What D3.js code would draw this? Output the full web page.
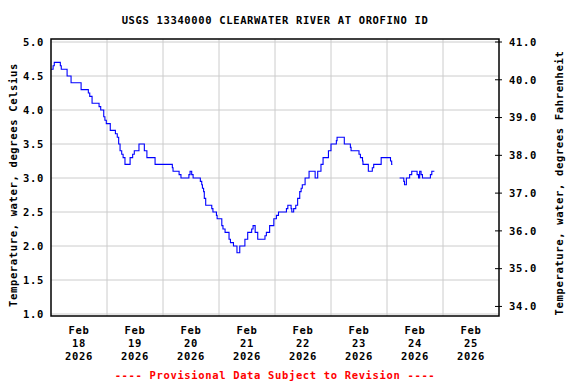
<!DOCTYPE html>
<meta charset="utf-8">
<head>
    <title>USGS 13340000 CLEARWATER RIVER AT OROFINO ID</title>
    <style>
        body { margin: 0; background: #fff; }
        text {
            font-family: "DejaVu Sans Mono", monospace;
            font-weight: bold;
            font-size: 10.5px;
            letter-spacing: 0.65px;
            fill: #000;
        }
    </style>
</head>
<body>
<script src="https://d3js.org/d3.v7.min.js"></script>
<script>
    // readings as change points: hours after Feb 18 00:00 and water temp (deg C); null = gap
    var hours = [0, 0.9, 1.4, 4.0, 4.4, 6.9, 8.6, 12.9, 16.0, 16.6, 17.6, 20.6, 21.3, 22.6, 23.1, 23.7,
        25.4, 27.6, 28.4, 29.0, 29.6, 30.3, 30.9, 31.7, 33.9, 35.0, 35.7, 37.7, 40.0, 41.1, 44.6,
        52.0, 52.3, 54.9, 55.7, 59.1, 59.6, 60.3, 60.9, 64.0, 64.6, 64.9, 65.4, 65.7, 66.3, 68.9,
        69.4, 70.9, 71.2, 73.2, 73.7, 74.6, 76.3, 76.9, 78.2, 79.7, 80.9, 83.1, 84.3, 86.0, 86.6,
        87.5, 88.6, 91.7, 92.3, 93.7, 95.5, 96.6, 97.5, 100.9, 101.5, 102.9, 103.2, 104.0, 104.9,
        105.7, 106.6, 107.2, 107.7, 108.9, 110.6, 113.2, 114.3, 115.7, 116.6, 118.9, 120.0, 122.3,
        122.6, 125.7, 128.3, 128.6, 132.0, 132.6, 133.5, 133.7, 136.0, 137.7, 138.3, 141.5, 145.5,
        146.0, 146.3, 147.0,
        149.4, 151.2, 151.5, 152.3, 153.7, 154.6, 156.9, 157.5, 158.0, 158.6, 159.2, 162.6, 163.2, 164.3];
    var tempC = [4.6, 4.65, 4.7, 4.65, 4.6, 4.5, 4.4, 4.3, 4.25, 4.2, 4.1, 4.05, 4.0, 3.9, 3.85, 3.8,
        3.7, 3.65, 3.6, 3.5, 3.4, 3.35, 3.3, 3.2, 3.3, 3.35, 3.4, 3.5, 3.4, 3.3, 3.2,
        3.15, 3.1, 3.05, 3.0, 3.05, 3.1, 3.05, 3.0, 2.95, 2.9, 2.85, 2.8, 2.7, 2.6, 2.55,
        2.5, 2.45, 2.4, 2.3, 2.25, 2.2, 2.1, 2.05, 2.0, 1.9, 2.0, 2.1, 2.2, 2.25, 2.3,
        2.2, 2.1, 2.15, 2.2, 2.3, 2.4, 2.45, 2.5, 2.55, 2.6, 2.55, 2.5, 2.55, 2.6,
        2.7, 2.8, 2.85, 2.9, 3.0, 3.1, 3.0, 3.1, 3.2, 3.3, 3.4, 3.5, 3.55,
        3.6, 3.5, 3.45, 3.4, 3.35, 3.3, 3.25, 3.2, 3.1, 3.15, 3.2, 3.3, 3.25,
        3.2, 3.2, null,
        3.0, 2.95, 2.9, 3.0, 3.05, 3.1, 3.05, 3.0, 3.1, 3.05, 3.0, 3.05, 3.1, 3.1];

    var dayNums = ["18", "19", "20", "21", "22", "23", "24", "25"];
    var monthLabel = "Feb";
    var yearLabel = "2026";
    var celsiusTicks = [1.0, 1.5, 2.0, 2.5, 3.0, 3.5, 4.0, 4.5, 5.0];
    var fahrenheitTicks = [34, 35, 36, 37, 38, 39, 40, 41];

    var width = 576, height = 384;
    var plot = { left: 51, right: 499, top: 39, bottom: 316 };

    var svg = d3.select("body").append("svg")
        .attr("width", width)
        .attr("height", height);

    var start = new Date(2026, 1, 18);
    var end = new Date(2026, 1, 26);
    var x = d3.scaleTime().domain([start, end]).range([plot.left, plot.right]);
    var y = d3.scaleLinear().domain([1, 5]).range([314, 42]);
    var yF = d3.scaleLinear().domain([(1 * 1.8) + 32, (5 * 1.8) + 32]).range([314, 42]);

    function hoursToDate(h) { return new Date(start.getTime() + h * 3600 * 1000); }

    var data = hours.map(function (h, i) { return { t: hoursToDate(h), v: tempC[i] }; });

    // grid
    var days = d3.timeDay.range(d3.timeDay.offset(start, 1), end);
    svg.append("g").selectAll("line").data(days).enter().append("line")
        .attr("x1", d => x(d)).attr("x2", d => x(d))
        .attr("y1", plot.top).attr("y2", plot.bottom)
        .attr("stroke", "#cccccc").attr("stroke-width", 1);

    svg.append("g").selectAll("line").data(celsiusTicks).enter().append("line")
        .attr("x1", plot.left).attr("x2", plot.right)
        .attr("y1", d => y(d)).attr("y2", d => y(d))
        .attr("stroke", "#cccccc").attr("stroke-width", 1);

    // data line
    var line = d3.line()
        .defined(d => d.v != null)
        .x(d => x(d.t))
        .y(d => y(d.v))
        .curve(d3.curveStepAfter);

    svg.append("path")
        .datum(data)
        .attr("d", line)
        .attr("fill", "none")
        .attr("stroke", "#0000ff")
        .attr("stroke-width", 1.1);

    // frame
    svg.append("rect")
        .attr("x", plot.left).attr("y", plot.top)
        .attr("width", plot.right - plot.left).attr("height", plot.bottom - plot.top)
        .attr("fill", "none").attr("stroke", "#000").attr("stroke-width", 1.5);

    // left axis labels
    svg.append("g").selectAll("text").data(celsiusTicks).enter().append("text")
        .attr("x", 44).attr("y", d => y(d)).attr("dy", "0.36em")
        .attr("text-anchor", "end")
        .text(d => d.toFixed(1));

    // right axis ticks and labels
    svg.append("g").selectAll("line").data(fahrenheitTicks).enter().append("line")
        .attr("x1", plot.right - 4).attr("x2", plot.right + 3)
        .attr("y1", d => yF(d)).attr("y2", d => yF(d))
        .attr("stroke", "#000").attr("stroke-width", 1);

    svg.append("g").selectAll("text").data(fahrenheitTicks).enter().append("text")
        .attr("x", 509).attr("y", d => yF(d)).attr("dy", "0.36em")
        .text(d => d.toFixed(1));

    // x labels at noon
    var xl = svg.append("g").selectAll("text").data(dayNums).enter().append("text")
        .attr("text-anchor", "middle")
        .attr("transform", (d, i) => "translate(" + x(d3.timeHour.offset(start, 12 + 24 * i)) + ",0)");
    xl.append("tspan").attr("x", 0).attr("y", 334).text(monthLabel);
    xl.append("tspan").attr("x", 0).attr("y", 347).text(d => d);
    xl.append("tspan").attr("x", 0).attr("y", 360).text(yearLabel);

    // titles
    svg.append("text")
        .attr("x", (plot.left + plot.right) / 2).attr("y", 23.5)
        .attr("text-anchor", "middle")
        .text("USGS 13340000 CLEARWATER RIVER AT OROFINO ID");

    svg.append("text")
        .attr("transform", "translate(16.5,185) rotate(-90)")
        .attr("text-anchor", "middle")
        .text("Temperature, water, degrees Celsius");

    svg.append("text")
        .attr("transform", "translate(562.5,183) rotate(-90)")
        .attr("text-anchor", "middle")
        .text("Temperature, water, degrees Fahrenheit");

    svg.append("text")
        .attr("x", (plot.left + plot.right) / 2).attr("y", 379)
        .attr("text-anchor", "middle")
        .style("fill", "#ff0000")
        .text("---- Provisional Data Subject to Revision ----");
</script>
</body>
